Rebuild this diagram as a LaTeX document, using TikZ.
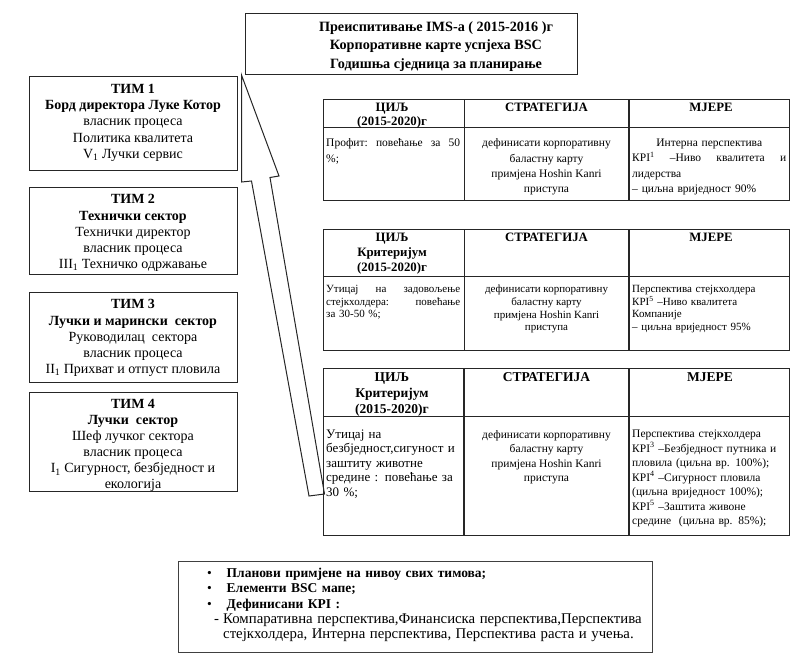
\documentclass[tikz,border=0pt]{standalone}
\usepackage{fontspec}
\setmainfont{Liberation Serif}
\newcommand\spread[1]{\noindent\hbox to\linewidth{#1}}
\begin{document}
\begin{tikzpicture}[x=1pt,y=-1pt,
  frame/.style={draw=black!85, line width=1pt, inner sep=0pt, anchor=north west},
  rule/.style={draw=black!85, line width=1pt},
  thickrule/.style={draw=black!85, line width=1.6pt},
  txt/.style={inner sep=0pt, anchor=north, align=center},
  timtext/.style={txt, font=\fontsize{14}{16.2}\selectfont},
  cell/.style={inner sep=0pt, anchor=north west, align=left},
  pointer/.style={draw=black!85, line width=1pt, fill=white, line join=miter}]
\useasboundingbox (0,0) rectangle (798,662);

% ---- title box ----
\node[frame, minimum width=332, minimum height=61] (title) at (245,13) {};
\node[txt, font=\bfseries\fontsize{14.2}{18.7}\selectfont] (titletext) at (436,21) {%
Преиспитивање IMS-a ( 2015-2016 )г\\
Корпоративне карте успјеха BSC\\
Годишња сједница за планирање};

% ---- team boxes ----
\node[frame, minimum width=208, minimum height=94] (tim1) at (29,76) {};
\node[timtext] (tim1t) at (133,84) {\textbf{ТИМ 1}\\ \textbf{Борд директора Луке Котор}\\
власник процеса\\ Политика квалитета\\ V\textsubscript{1} Лучки сервис};

\node[frame, minimum width=208, minimum height=87] (tim2) at (29,187) {};
\node[timtext] (tim2t) at (133,194.5) {\textbf{ТИМ 2}\\ \textbf{Технички сектор}\\
Технички директор\\ власник процеса\\ III\textsubscript{1} Техничко одржавање};

\node[frame, minimum width=208, minimum height=90] (tim3) at (29,292) {};
\node[timtext] (tim3t) at (133,299.5) {\textbf{ТИМ 3}\\ \textbf{Лучки и марински\ \ сектор}\\
Руководилац\ \ сектора\\ власник процеса\\ II\textsubscript{1} Прихват и отпуст пловила};

\node[frame, minimum width=208, minimum height=99] (tim4) at (29,392) {};
\node[timtext, font=\fontsize{14}{16}\selectfont] (tim4t) at (133,399.5) {\textbf{ТИМ 4}\\ \textbf{Лучки\ \ сектор}\\
Шеф лучког сектора\\ власник процеса\\ I\textsubscript{1} Сигурност, безбједност и\\ екологија};

% ---- hollow arrow from the teams up to the annual meeting ----
\coordinate (tip) at (241.5,75);
\coordinate (lbarb) at (241.5,182);
\coordinate (lneck) at (251.5,181);
\coordinate (ltail) at (309,496);
\coordinate (rtail) at (324.5,494);
\coordinate (rneck) at (270,177.5);
\coordinate (rbarb) at (279,176);
\draw[pointer] (tip) -- (lbarb) -- (lneck) -- (ltail) -- (rtail) -- (rneck) -- (rbarb) -- cycle;

% ---- table 1 ----
\node[frame, minimum width=466, minimum height=101] (tab1) at (323,99) {};
\draw[rule] (323,127) -- (789,127);
\draw[rule] (464,99) -- (464,200);
\draw[thickrule] (629,99) -- (629,200);
\node[txt, font=\bfseries\fontsize{12.8}{14.5}\selectfont] (t1h1) at (392,102.5) {ЦИЉ\\(2015-2020)г};
\node[txt, font=\bfseries\fontsize{12.8}{14.5}\selectfont] (t1h2) at (546.5,102.5) {СТРАТЕГИЈА};
\node[txt, font=\bfseries\fontsize{12.8}{14.5}\selectfont] (t1h3) at (711,102.5) {МЈЕРЕ};
\node[cell, text width=134, font=\fontsize{11.5}{15.4}\selectfont] (t1c1) at (326,138.5) {%
\spread{Профит:\hfill повећање\hfill за\hfill 50}\\ \%;};
\node[txt, font=\fontsize{11.5}{15.4}\selectfont] (t1c2) at (546.5,138.5) {%
дефинисати корпоративну\\ баластну карту\\ примјена Hoshin Kanri\\ приступа};
\node[cell, text width=154, font=\fontsize{11.5}{15.4}\selectfont] (t1c3) at (632,138.5) {%
\spread{\hfil Интерна перспектива\hfil}\\
\spread{КРI\textsuperscript{1}\hfill –Ниво\hfill квалитета\hfill и}\\
лидерства\\ – циљна вриједност 90\%};

% ---- table 2 ----
\node[frame, minimum width=466, minimum height=121] (tab2) at (323,229) {};
\draw[rule] (323,276) -- (789,276);
\draw[rule] (464,229) -- (464,350);
\draw[thickrule] (629,229) -- (629,350);
\node[txt, font=\bfseries\fontsize{12.8}{15}\selectfont] (t2h1) at (392,233) {ЦИЉ\\Критеријум\\(2015-2020)г};
\node[txt, font=\bfseries\fontsize{12.8}{15}\selectfont] (t2h2) at (546.5,233) {СТРАТЕГИЈА};
\node[txt, font=\bfseries\fontsize{12.8}{15}\selectfont] (t2h3) at (711,233) {МЈЕРЕ};
\node[cell, text width=134, font=\fontsize{11}{12.7}\selectfont] (t2c1) at (326,285) {%
\spread{Утицај\hfill на\hfill задовољење}\\
\spread{стејкхолдера:\hfill повећање}\\ за 30-50 \%;};
\node[txt, font=\fontsize{11}{12.7}\selectfont] (t2c2) at (546.5,285) {%
дефинисати корпоративну\\ баластну карту\\ примјена Hoshin Kanri\\ приступа};
\node[cell, text width=154, font=\fontsize{11}{12.7}\selectfont] (t2c3) at (632,285) {%
Перспектива стејкхолдера\\ КРI\textsuperscript{5} –Ниво квалитета\\ Компаније\\ – циљна вриједност 95\%};

% ---- table 3 ----
\node[frame, minimum width=466, minimum height=167] (tab3) at (323,368) {};
\draw[rule] (323,416) -- (789,416);
\draw[thickrule] (464,368) -- (464,535);
\draw[thickrule] (629,368) -- (629,535);
\node[txt, font=\bfseries\fontsize{13.5}{16}\selectfont] (t3h1) at (392,372.5) {ЦИЉ\\Критеријум\\(2015-2020)г};
\node[txt, font=\bfseries\fontsize{13.5}{16}\selectfont] (t3h2) at (546.5,372.5) {СТРАТЕГИЈА};
\node[txt, font=\bfseries\fontsize{13.5}{16}\selectfont] (t3h3) at (710,372.5) {МЈЕРЕ};
\node[cell, text width=136, font=\fontsize{13}{14.5}\selectfont] (t3c1) at (326,429.5) {%
Утицај на\\ безбједност,сигуност и\\ заштиту животне\\ средине : повећање за\\ 30 \%;};
\node[txt, font=\fontsize{11.5}{14.5}\selectfont] (t3c2) at (546.5,430) {%
дефинисати корпоративну\\ баластну карту\\ примјена Hoshin Kanri\\ приступа};
\node[cell, text width=156, font=\fontsize{11.5}{14.5}\selectfont] (t3c3) at (632,430) {%
Перспектива стејкхолдера\\
КРI\textsuperscript{3} –Безбједност путника и\\
пловила (циљна вр. 100\%);\\
КРI\textsuperscript{4} –Сигурност пловила\\
(циљна вриједност 100\%);\\
КРI\textsuperscript{5} –Заштита живоне\\
средине\ \ (циљна вр. 85\%);};

% ---- summary box ----
\node[frame, draw=black!75, line width=1.3pt, minimum width=474, minimum height=91] (summary) at (178,561) {};
\node[cell, text width=450, font=\fontsize{13.5}{15.3}\selectfont] (summaryt) at (207,568) {%
\makebox[19.5pt][l]{•}\textbf{Планови примјене на нивоу свих тимова;}\\
\makebox[19.5pt][l]{•}\textbf{Елементи BSC мапе;}\\
\makebox[19.5pt][l]{•}\textbf{Дефинисани КРI :}\\
{\fontsize{14.8}{15.3}\selectfont\hspace*{7pt}\makebox[9pt][l]{-}Компаративна перспектива,Финансиска перспектива,Перспектива}\\
{\fontsize{14.8}{15.3}\selectfont\hspace*{16pt}стејкхолдера, Интерна перспектива, Перспектива раста и учења.}};
\end{tikzpicture}
\end{document}
